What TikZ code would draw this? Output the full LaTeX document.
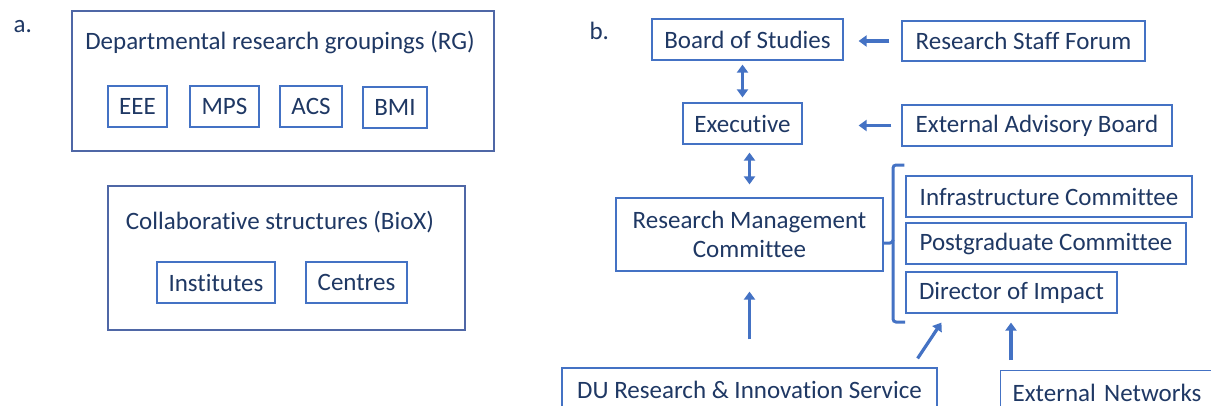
\documentclass[tikz,border=0pt]{standalone}
\usepackage{fontspec}
\setmainfont{Carlito}[Ligatures={NoCommon}]
\usetikzlibrary{arrows.meta}
\definecolor{txt}{HTML}{1F3864}
\definecolor{edge}{HTML}{4472C4}
\definecolor{outer}{HTML}{4F67A6}
\begin{document}
\begin{tikzpicture}[x=1pt,y=-1pt,
  every node/.style={text=txt,font=\fontsize{25}{29}\selectfont},
  ibox/.style={draw=edge,line width=1.2pt,inner sep=0pt,align=center},
  obox/.style={draw=outer,line width=1.8pt,inner sep=0pt},
  arr/.style={draw=edge,line width=3.2pt,-{Triangle[width=11pt,length=8pt]}},
  dbl/.style={draw=edge,line width=3.2pt,{Triangle[width=11pt,length=8pt]}-{Triangle[width=11pt,length=8pt]}},
  brk/.style={draw=edge,line width=3pt,rounded corners=3pt}]
\clip (0,0) rectangle (1211,405);
\fill[white] (0,0) rectangle (1211,405);

% ---- a. research groupings ----
\node[anchor=base west] (la) at (10,32) {a.};
\node[obox,minimum width=422pt,minimum height=140pt] (rg) at (283,81) {};
\node (rgt) at (280,43) {Departmental research groupings (RG)};
\node[ibox,minimum width=59pt,minimum height=41pt] (eee) at (137.5,106.5) {EEE};
\node[ibox,minimum width=69pt,minimum height=41pt] (mps) at (224.5,106.5) {MPS};
\node[ibox,minimum width=62pt,minimum height=41pt] (acs) at (311,106.5) {ACS};
\node[ibox,minimum width=64pt,minimum height=41pt] (bmi) at (395,107.5) {BMI};

\node[obox,minimum width=357pt,minimum height=144pt] (biox) at (286.5,258) {};
\node (bioxt) at (280,222) {Collaborative structures (BioX)};
\node[ibox,minimum width=118pt,minimum height=41pt] (inst) at (216,282.5) {Institutes};
\node[ibox,minimum width=101pt,minimum height=41pt] (cent) at (356.5,282.5) {Centres};

% ---- b. governance ----
\node[anchor=base west] (lb) at (586,39) {b.};
\node[ibox,minimum width=191pt,minimum height=41pt] (bos) at (747.5,39.5) {Board of Studies};
\node[ibox,minimum width=243pt,minimum height=40pt] (rsf) at (1023.5,41) {Research Staff Forum};
\node[ibox,minimum width=119pt,minimum height=41pt] (exec) at (742.5,123.5) {Executive};
\node[ibox,minimum width=270pt,minimum height=41pt] (eab) at (1037,125.5) {External Advisory Board};
\node[ibox,minimum width=267pt,minimum height=73pt] (rmc) at (749.5,234.5) {Research Management\\Committee};
\node[ibox,minimum width=286pt,minimum height=41pt] (infra) at (1049,196.5) {Infrastructure Committee};
\node[ibox,minimum width=280pt,minimum height=41pt] (pg) at (1046,243.5) {Postgraduate Committee};
\node[ibox,minimum width=211pt,minimum height=41pt] (doi) at (1011.5,292.5) {Director of Impact};
\node[ibox,minimum width=375pt,minimum height=44pt] (du) at (749.5,390) {DU Research \& Innovation Service};
\node[ibox,anchor=north west,minimum width=230pt,minimum height=44pt,
      text width=206pt,align=left,inner xsep=12pt] (en) at (1000,370) {External Networks};

% connectors
\draw[arr,shorten <=12pt,shorten >=15pt] (rsf.west) -- (rsf.west -| bos.east);
\draw[arr,shorten <=10pt,shorten >=56pt] (eab.west) -- (eab.west -| exec.east);
\draw[dbl,shorten <=5pt,shorten >=4pt] (exec.north) -- (exec.north |- bos.south);
\draw[dbl,shorten <=13pt,shorten >=8pt] (rmc.north) -- (rmc.north |- exec.south);
\draw[arr,shorten <=28pt,shorten >=20pt] (rmc.south |- du.north) -- (rmc.south);
\draw[arr,shorten <=10.8pt,shorten >=10.8pt] ([xshift=-26pt]du.north east) -- ([xshift=42pt]doi.south west);
\draw[arr,shorten <=10pt,shorten >=9pt] ([xshift=11pt]en.north west) -- ([xshift=11pt]en.north west |- doi.south);

% bracket grouping the committees
\draw[brk] ([xshift=-1pt]infra.north west |- 0,165) -- (893,165) -- (893,243) -- (rmc.east |- 0,243);
\draw[brk] (893,240) -- (893,322) -- (905,322);
\end{tikzpicture}
\end{document}
